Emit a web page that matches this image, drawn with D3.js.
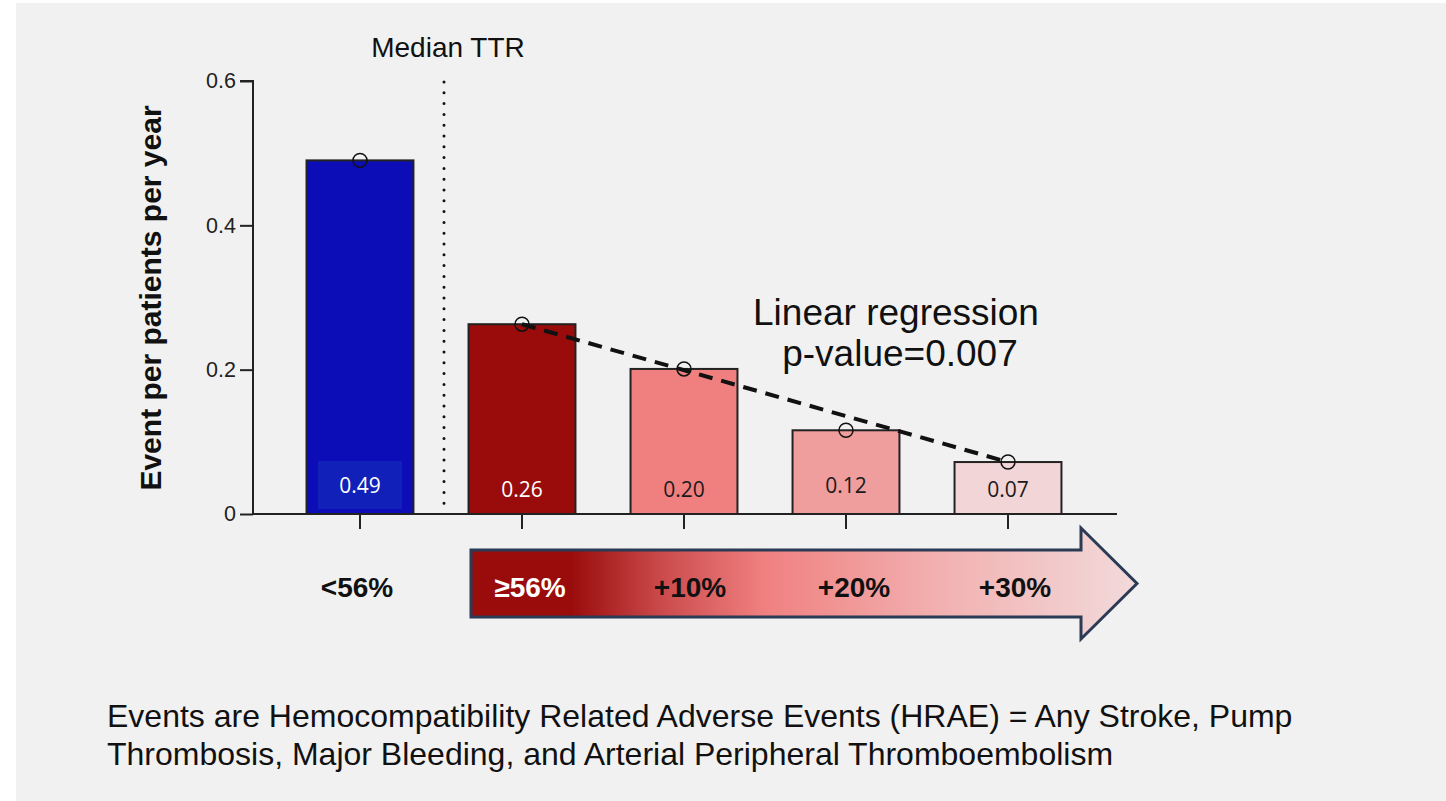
<!DOCTYPE html>
<html><head><meta charset="utf-8">
<script src="https://cdn.jsdelivr.net/npm/d3@7"></script>
<style>html,body{margin:0;padding:0;background:#fff;}</style>
</head><body>
<svg id="c" width="1446" height="801" font-family="Arial, 'Liberation Sans', Helvetica, sans-serif"></svg>
<script>
const categories = ["<56%", "≥56%", "+10%", "+20%", "+30%"];
const values = [0.49, 0.263, 0.201, 0.116, 0.072];
const valueLabels = ["0.49", "0.26", "0.20", "0.12", "0.07"];
const barColors = ["#0d0db8", "#9a0c0c", "#f08080", "#ef9d9d", "#f2d5d6"];
const labelColors = ["#ffffff", "#ffffff", "#1a1a1a", "#1a1a1a", "#1a1a1a"];
const yTicks = [0, 0.2, 0.4, 0.6];
const yTickLabels = ["0", "0.2", "0.4", "0.6"];

const FONT = "Arial, 'Liberation Sans', Helvetica, sans-serif";
const svg = d3.select("#c");
svg.append("rect").attr("x", 16).attr("y", 3).attr("width", 1430).attr("height", 798).attr("fill", "#f1f1f1");

const x = d3.scaleBand().domain(categories).range([279, 1089]).paddingInner(0.34).paddingOuter(0.17);
const y = d3.scaleLinear().domain([0, 0.6]).range([514, 81]);

const g = svg.append("g");

// bars
g.selectAll("rect.bar").data(values).join("rect")
  .attr("x", (d, i) => x(categories[i]))
  .attr("y", d => y(d))
  .attr("width", x.bandwidth())
  .attr("height", d => y(0) - y(d))
  .attr("fill", (d, i) => barColors[i])
  .attr("stroke", "#222").attr("stroke-width", 2);

// label box in first bar
g.append("rect").attr("x", x(categories[0]) + x.bandwidth() / 2 - 42).attr("y", 461)
  .attr("width", 84).attr("height", 48).attr("fill", "#1020b8");

// value labels
g.selectAll("text.vl").data(values).join("text")
  .attr("x", (d, i) => x(categories[i]) + x.bandwidth() / 2)
  .attr("y", (d, i) => [493, 497, 497, 493, 497][i])
  .attr("text-anchor", "middle")
  .attr("font-family", "'Open Sans', 'Noto Sans', sans-serif")
  .attr("font-size", 21)
  .attr("fill", (d, i) => labelColors[i])
  .text((d, i) => valueLabels[i]);

// y axis
const yAxis = d3.axisLeft(y).tickValues(yTicks).tickFormat((d, i) => yTickLabels[i]).tickSize(13).tickPadding(4);
const ya = svg.append("g").attr("transform", "translate(253,0)").call(yAxis);
ya.attr("font-family", FONT).attr("font-size", 21.5);
ya.select(".domain").attr("stroke", "#222").attr("stroke-width", 2).attr("d", "M-13,81H0V514");
ya.selectAll(".tick line").attr("stroke", "#222").attr("stroke-width", 2);
ya.selectAll(".tick text").attr("fill", "#222");

// x axis
const xAxis = d3.axisBottom(x).tickSize(15).tickFormat("");
const xa = svg.append("g").attr("transform", "translate(0,514)").call(xAxis);
xa.select(".domain").attr("stroke", "#222").attr("stroke-width", 2).attr("d", "M253,0H1117");
xa.selectAll(".tick line").attr("stroke", "#222").attr("stroke-width", 2);

// circles
g.selectAll("circle.pt").data(values).join("circle")
  .attr("cx", (d, i) => x(categories[i]) + x.bandwidth() / 2)
  .attr("cy", d => y(d))
  .attr("r", 7)
  .attr("fill", "none").attr("stroke", "#111").attr("stroke-width", 1.5);

// regression dashed line between first and last of red group
const cx = i => x(categories[i]) + x.bandwidth() / 2;
svg.append("line")
  .attr("x1", cx(1)).attr("y1", y(values[1]))
  .attr("x2", cx(4)).attr("y2", y(values[4]))
  .attr("stroke", "#111").attr("stroke-width", 4).attr("stroke-dasharray", "14,9");

// median line
svg.append("line").attr("x1", 444).attr("x2", 444).attr("y1", 82).attr("y2", 508)
  .attr("stroke", "#111").attr("stroke-width", 3).attr("stroke-linecap", "round").attr("stroke-dasharray", "0,10.8");
svg.append("text").attr("x", 448).attr("y", 57).attr("text-anchor", "middle").attr("font-size", 28).attr("fill", "#111").text("Median TTR");

// regression text
svg.append("text").attr("x", 896).attr("y", 325).attr("text-anchor", "middle").attr("font-size", 37).attr("fill", "#111").text("Linear regression");
svg.append("text").attr("x", 900).attr("y", 366).attr("text-anchor", "middle").attr("font-size", 37).attr("fill", "#111").text("p-value=0.007");

// y axis title
svg.append("text").attr("transform", "translate(161,298) rotate(-90)").attr("text-anchor", "middle")
  .attr("font-size", 30).attr("font-weight", "bold").attr("fill", "#111").text("Event per patients per year");

// gradient arrow
const defs = svg.append("defs");
const grad = defs.append("linearGradient").attr("id", "ag").attr("x1", "0%").attr("x2", "100%").attr("y1", "0%").attr("y2", "0%");
[[0, "#9a0c0c"], [0.15, "#9a0c0c"], [0.29, "#cc4c4d"], [0.44, "#f08080"], [0.7, "#f2b0b0"], [1, "#f2dadb"]]
  .forEach(([o, c]) => grad.append("stop").attr("offset", o).attr("stop-color", c));
const ax0 = 471, ax1 = 1081, tip = 1137, ty0 = 550, ty1 = 617, hy0 = 528, hy1 = 639;
svg.append("path")
  .attr("d", `M${ax0},${ty0}H${ax1}V${hy0}L${tip},${(hy0 + hy1) / 2}L${ax1},${hy1}V${ty1}H${ax0}Z`)
  .attr("fill", "url(#ag)").attr("stroke", "#2b3a55").attr("stroke-width", 3).attr("stroke-linejoin", "miter");

// category labels
const catX = [357, 530, 690, 854, 1015];
const catColors = ["#111", "#fff", "#111", "#111", "#111"];
svg.selectAll("text.cat").data(categories).join("text")
  .attr("x", (d, i) => catX[i]).attr("y", 597).attr("text-anchor", "middle")
  .attr("font-size", 28).attr("font-weight", "bold").attr("fill", (d, i) => catColors[i]).text(d => d);

// footnote
svg.append("text").attr("x", 107).attr("y", 727).attr("font-size", 32).attr("fill", "#111")
  .text("Events are Hemocompatibility Related Adverse Events (HRAE) = Any Stroke, Pump");
svg.append("text").attr("x", 107).attr("y", 765).attr("font-size", 32).attr("fill", "#111")
  .text("Thrombosis, Major Bleeding, and Arterial Peripheral Thromboembolism");
</script>
</body></html>
